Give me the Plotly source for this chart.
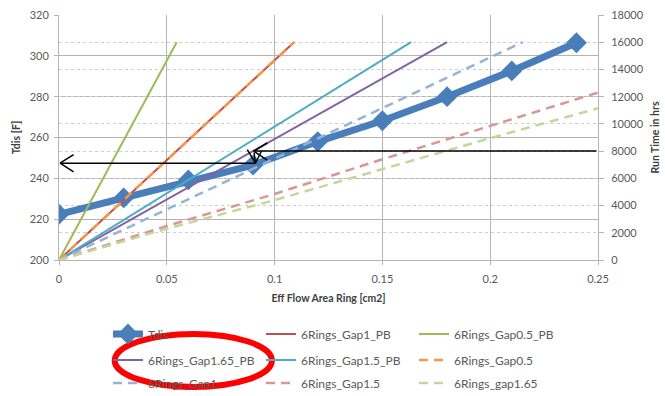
import plotly.graph_objects as go

# Discharge temperature vs effective flow area (left axis, deg F)
area = [0, 0.03, 0.06, 0.09, 0.12, 0.15, 0.18, 0.21, 0.24]
tdis = [222.4, 230.4, 239.2, 246.5, 258.0, 268.2, 280.0, 292.6, 306.4]

# Run time in hours vs effective flow area (right axis)
gap1_pb_x = [0, 0.109]
gap1_pb_y = [0, 16000]
gap05_pb_x = [0, 0.0546]
gap05_pb_y = [0, 16000]
gap165_pb_x = [0, 0.18]
gap165_pb_y = [0, 16000]
gap15_pb_x = [0, 0.1633]
gap15_pb_y = [0, 16000]
gap05_x = [0, 0.109]
gap05_y = [0, 16000]
gap1_x = [0, 0.215]
gap1_y = [0, 16000]
gap15_x = [0, 0.05, 0.1, 0.15, 0.2, 0.25]
gap15_y = [0, 2500, 4850, 7400, 9850, 12300]
gap165_x = [0, 0.05, 0.1, 0.15, 0.2, 0.25]
gap165_y = [0, 2300, 4400, 6700, 8950, 11150]

# Read-off path: 8000 hrs -> flow area -> discharge temperature
target_hrs = 8000
area_at_target = 0.0903
tdis_at_target = 247.4

FONT = "Lato"
TXT = "#595959"
GRID = "#B4B4B4"

fig = go.Figure()

fig.add_trace(go.Scatter(
    x=area, y=tdis, name="Tdis", mode="lines+markers",
    line=dict(color="#4A7EBB", width=7),
    marker=dict(symbol="diamond", size=16, color="#4A7EBB"),
    yaxis="y", legend="legend"))

def run_line(x, y, name, color, dash, legend):
    fig.add_trace(go.Scatter(
        x=x, y=y, name=name, mode="lines",
        line=dict(color=color, width=2 if dash == "solid" else 2.5, dash=dash),
        yaxis="y2", legend=legend))

DASH = "9px,6px"
run_line(gap1_pb_x, gap1_pb_y, "6Rings_Gap1_PB", "#C0504D", "solid", "legend")
run_line(gap05_pb_x, gap05_pb_y, "6Rings_Gap0.5_PB", "#9BBB59", "solid", "legend")
run_line(gap165_pb_x, gap165_pb_y, "6Rings_Gap1.65_PB", "#8064A2", "solid", "legend2")
run_line(gap15_pb_x, gap15_pb_y, "6Rings_Gap1.5_PB", "#4BACC6", "solid", "legend2")
run_line(gap05_x, gap05_y, "6Rings_Gap0.5", "#F79646", DASH, "legend2")
run_line(gap1_x, gap1_y, "6Rings_Gap1", "#95B3D7", DASH, "legend3")
run_line(gap15_x, gap15_y, "6Rings_Gap1.5", "#D99694", DASH, "legend3")
run_line(gap165_x, gap165_y, "6Rings_gap1.65", "#C3D69B", DASH, "legend3")

# Arrows: shaft as a plain annotation line, open head drawn as two short strokes
stroke = dict(showarrow=True, text="", arrowhead=0, arrowwidth=1.5,
              arrowcolor="black", standoff=0, startstandoff=0)
annotations = []

def open_arrow(x_tip, y_tip, yref, x_tail, y_tail, wings):
    annotations.append(dict(x=x_tip, y=y_tip, xref="x", yref=yref,
                            ax=x_tail, ay=y_tail, axref="x", ayref=yref, **stroke))
    for dx, dy in wings:
        annotations.append(dict(x=x_tip, y=y_tip, xref="x", yref=yref,
                                ax=dx, ay=dy, **stroke))

open_arrow(area_at_target, target_hrs, "y2", 0.25, target_hrs,
           [(15, -9), (15, 10)])
open_arrow(0.0911, tdis_at_target, "y", 0.0904, 253.3,
           [(-9, -15), (7, -14)])
open_arrow(0.0005, tdis_at_target, "y", 0.0917, tdis_at_target,
           [(15, -9.5), (15, 9.5)])

legend_common = dict(orientation="h", xanchor="left", yanchor="middle",
                     entrywidth=108, entrywidthmode="pixels",
                     font=dict(family=FONT, size=12, color=TXT),
                     bgcolor="rgba(0,0,0,0)", itemwidth=30)

fig.update_layout(
    width=665, height=396,
    margin=dict(l=59, r=67, t=15, b=136, autoexpand=False),
    paper_bgcolor="white", plot_bgcolor="white",
    font=dict(family=FONT, size=11, color=TXT),
    xaxis=dict(range=[0, 0.25], dtick=0.05, tickformat="~g",
               showgrid=True, gridcolor=GRID, gridwidth=1,
               showline=True, linecolor=GRID,
               ticks="outside", ticklen=4, tickcolor=GRID,
               zeroline=False, ticklabelstandoff=5,
               tickfont=dict(size=11, color=TXT),
               title=dict(text="<b>Eff Flow Area Ring [cm2]</b>",
                          font=dict(size=10.5, color="#404040"), standoff=10)),
    yaxis=dict(range=[200, 320], dtick=20, showgrid=True, gridcolor=GRID,
               showline=True, linecolor=GRID, ticks="outside", ticklen=4,
               tickcolor=GRID, zeroline=False, ticklabelstandoff=3,
               tickfont=dict(size=11, color=TXT),
               title=dict(text="<b>Tdis [F]</b>",
                          font=dict(size=10.5, color="#404040"), standoff=6)),
    yaxis2=dict(range=[0, 18000], dtick=2000, overlaying="y", side="right",
                tickformat="d",
                showgrid=True, gridcolor="#CFCFCF", griddash="dot",
                showline=True, linecolor=GRID, ticks="outside", ticklen=5,
                tickcolor=GRID, zeroline=False, ticklabelstandoff=5,
                tickfont=dict(size=11, color=TXT),
                title=dict(text="<b>Run Time in hrs</b>",
                           font=dict(size=10.5, color="#404040"), standoff=8)),
    legend=dict(x=0.0909, y=-0.302, **legend_common),
    legend2=dict(x=0.0909, y=-0.408, **legend_common),
    legend3=dict(x=0.0909, y=-0.502, **legend_common),
    annotations=annotations,
    shapes=[dict(type="circle", xref="paper", yref="paper",
                 x0=0.1033, x1=0.395, y0=-0.518, y1=-0.302,
                 line=dict(color="#FF0000", width=6), layer="above")],
)

fig.write_html("out.html")
